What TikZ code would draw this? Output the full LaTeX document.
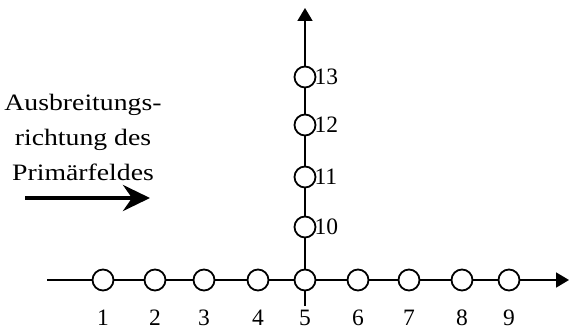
\documentclass[tikz,border=0pt]{standalone}
\usepackage{fontspec}
\setmainfont{Liberation Serif}
\usetikzlibrary{arrows.meta}
\begin{document}
\begin{tikzpicture}[x=1pt,y=-1pt,
  pt/.style={circle,draw,line width=1.8pt,fill=white,minimum size=21pt,inner sep=0pt},
  lab/.style={font=\fontsize{23.5}{23.5}\selectfont,inner sep=0pt},
  txt/.style={font=\fontsize{23.5}{23.5}\selectfont,inner sep=0pt},
  axis/.style={line width=1.8pt}]
\useasboundingbox (0,0) rectangle (569,329);
% axes
\coordinate (hs) at (47,280);
\coordinate (he) at (569,280);
\coordinate (vs) at (305,306);
\coordinate (ve) at (305,8);
\draw[axis,-{Triangle[length=13pt,width=15pt]}] (hs) -- (he);
\draw[axis,-{Triangle[length=13pt,width=15pt]}] (vs) -- (ve);
% horizontal points
\foreach \i/\x in {1/103,2/155,3/204,4/258,5/305,6/358,7/409,8/462,9/509}{
  \node[pt] (c\i) at (\x,280) {};
  \node[lab,anchor=base] (l\i) at (\x,325) {\i};
}
% vertical points
\foreach \i/\y in {10/227,11/177,12/125,13/77}{
  \node[pt] (c\i) at (305,\y) {};
  \node[lab,anchor=west] (l\i) at ([xshift=-2pt]c\i.east) {\i};
}
% text
\node[txt] (t1) at (83,105) {\scalebox{1.18}[1]{Ausbreitungs-}};
\node[txt] (t2) at (83,140) {\scalebox{1.18}[1]{richtung des}};
\node[txt] (t3) at (83,172) {\scalebox{1.18}[1]{Primärfeldes}};
\coordinate (as) at (25,198);
\coordinate (ae) at (150,198);
\draw[line width=4pt,-{Stealth[length=27pt,width=26pt,inset=9pt]}] (as) -- (ae);
\end{tikzpicture}
\end{document}
